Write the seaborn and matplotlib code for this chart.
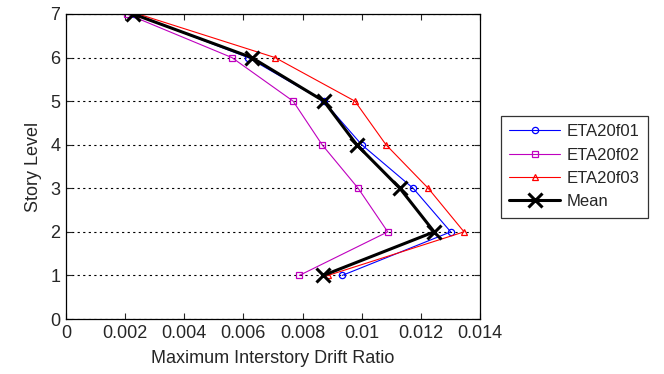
import matplotlib
matplotlib.use("Agg")
import matplotlib.pyplot as plt
import seaborn as sns

story = [1, 2, 3, 4, 5, 6, 7]
eta20f01 = [0.00934, 0.01301, 0.01174, 0.01000, 0.00871, 0.00616, 0.00231]
eta20f02 = [0.00789, 0.01088, 0.00988, 0.00866, 0.00768, 0.00561, 0.00206]
eta20f03 = [0.00886, 0.01346, 0.01225, 0.01082, 0.00977, 0.00707, 0.00244]
mean_drift = [0.00870, 0.01245, 0.01129, 0.00983, 0.00872, 0.00628, 0.00227]

x_ticks = [0, 0.002, 0.004, 0.006, 0.008, 0.01, 0.012, 0.014]
x_ticklabels = ["0", "0.002", "0.004", "0.006", "0.008", "0.01", "0.012", "0.014"]

sns.set_style("ticks")
plt.rcParams["font.family"] = ["Liberation Sans", "DejaVu Sans"]

fig = plt.figure(figsize=(6.64, 3.74), dpi=100)
ax = fig.add_axes([66 / 664, 1 - 319 / 374, 414 / 664, 305 / 374])

series = [
    ("ETA20f01", eta20f01, "#0000ff", "o"),
    ("ETA20f02", eta20f02, "#bf00bf", "s"),
    ("ETA20f03", eta20f03, "#ff0000", "^"),
]
for name, vals, color, mk in series:
    sns.lineplot(x=vals, y=story, sort=False, ax=ax, color=color, marker=mk,
                 markersize=4.5, linewidth=0.8, markerfacecolor="none",
                 markeredgecolor=color, markeredgewidth=0.9, label=name)
sns.lineplot(x=mean_drift, y=story, sort=False, ax=ax, color="black", marker="x",
             markersize=10, linewidth=2.2, markeredgecolor="black",
             markeredgewidth=2.2, label="Mean")

ax.set_xlim(0, 0.014)
ax.set_ylim(0, 7)
ax.set_xticks(x_ticks)
ax.set_xticklabels(x_ticklabels)
ax.set_yticks(range(0, 8))
ax.tick_params(direction="in", top=True, right=True, labelsize=13, length=4,
               width=0.8, pad=4)
for sp in ax.spines.values():
    sp.set_visible(True)
    sp.set_linewidth(0.9)
    sp.set_color("black")
ax.yaxis.grid(True, linestyle=(0, (2, 3)), color="black", linewidth=0.8)
ax.xaxis.grid(False)
ax.set_xlabel("Maximum Interstory Drift Ratio", fontsize=13, labelpad=6)
ax.set_ylabel("Story Level", fontsize=13, labelpad=6)

leg = ax.legend(loc="upper left", bbox_to_anchor=(435 / 414, (319 - 116) / 305),
                frameon=True, fancybox=False, edgecolor="black", fontsize=12,
                handlelength=3.05, borderpad=0.5, labelspacing=0.5,
                handletextpad=0.4, borderaxespad=0)
leg.get_frame().set_linewidth(0.9)

fig.savefig("out.png", dpi=100)
